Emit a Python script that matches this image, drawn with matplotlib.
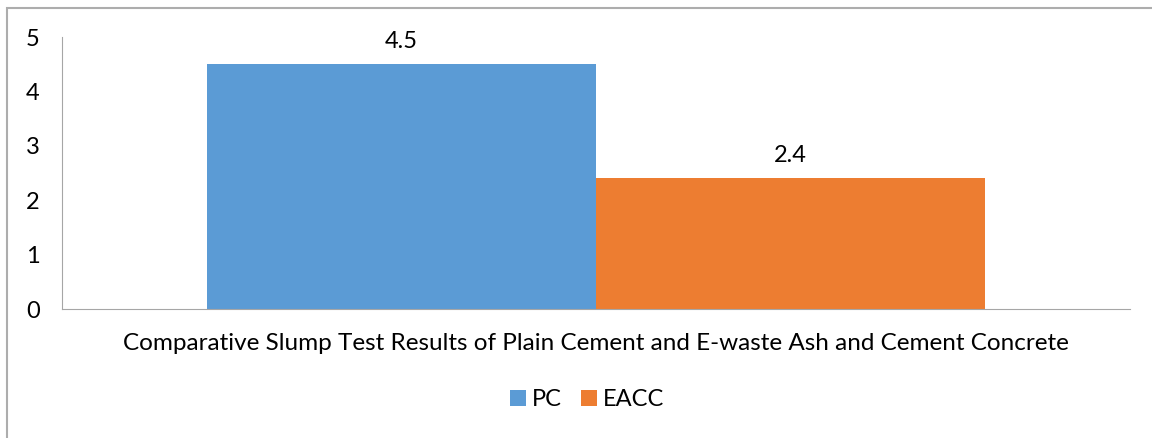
import matplotlib.pyplot as plt
from matplotlib.patches import Rectangle

plt.rcParams['font.family'] = ['Lato', 'DejaVu Sans']

category = 'Comparative Slump Test Results of Plain Cement and E-waste Ash and Cement Concrete'
series = ['PC', 'EACC']
values = [4.5, 2.4]
colors = ['#5B9BD5', '#ED7D31']

fig = plt.figure(figsize=(11.52, 4.38), dpi=100)
ax = fig.add_axes([62 / 1152, 1 - 309 / 438, (1130 - 62) / 1152, (309 - 37) / 438])

w = 0.3638
offsets = [-w / 2, w / 2]
for name, v, c, off in zip(series, values, colors, offsets):
    ax.bar(off, v, width=w, color=c, label=name)
    ax.text(off, v + 0.30, f'{v:.1f}', ha='center', va='baseline', fontsize=17, color='#000000')

ax.set_xlim(-0.5, 0.5)
ax.set_ylim(0, 5)
ax.set_yticks(range(0, 6))
ax.set_xticks([])
for s in ['top', 'right']:
    ax.spines[s].set_visible(False)
ax.spines['left'].set_color('#A6A6A6')
ax.spines['bottom'].set_color('#A6A6A6')
ax.tick_params(axis='y', length=0, labelsize=17, pad=16)

fig.text(596 / 1152, 1 - 343 / 438, category, ha='center', va='center', fontsize=17.5)

leg = fig.legend(loc='center', bbox_to_anchor=(587 / 1152, 1 - 400 / 438), ncol=2, frameon=False,
                 fontsize=17, handlelength=0.68, handleheight=0.64, handletextpad=0.25,
                 columnspacing=0.8, borderpad=0)

fig.patches.append(Rectangle((7 / 1152, -0.05), 1.1, 1.05 - 8 / 438,
                             transform=fig.transFigure, fill=False, edgecolor='#ADADAD', linewidth=1.5))

fig.savefig('out.png', dpi=100)
